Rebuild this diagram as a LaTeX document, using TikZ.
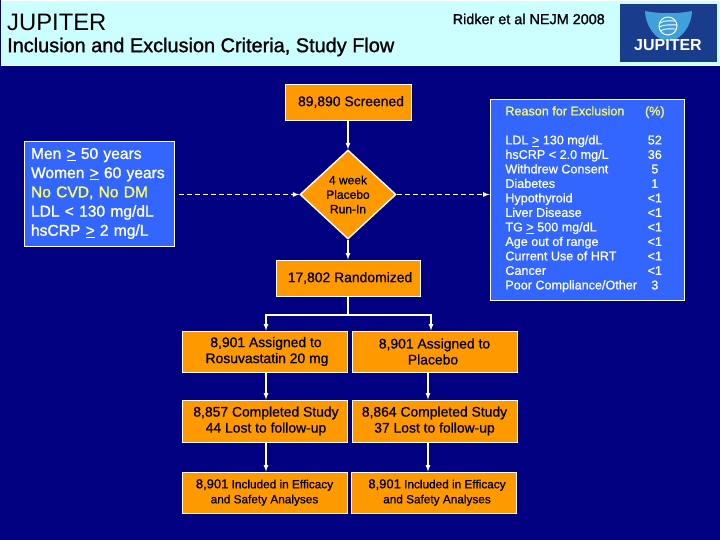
\documentclass[tikz,border=0pt]{standalone}
\usepackage{fontspec}
\usetikzlibrary{shapes.geometric}
\setmainfont{Liberation Sans}
\newfontfamily\heavyfont[FakeBold=1.2]{Liberation Sans}
\newfontfamily\medfont[FakeBold=0.7]{Liberation Sans}
\definecolor{navybg}{HTML}{000080}
\definecolor{headbg}{HTML}{CCFFFF}
\definecolor{orangebox}{HTML}{FF9900}
\definecolor{bluebox}{HTML}{3366FF}
\definecolor{yellowtext}{HTML}{FFFF66}
\definecolor{logoblue}{HTML}{1A3C8C}
\definecolor{logosky}{HTML}{3FA0DC}
\newcommand{\gequnder}{\underline{>}}
\tikzset{
  flowbox/.style={draw=white, fill=orangebox, line width=0.9pt, text=black, align=center,
    inner sep=0pt, font=\medfont\fontsize{13.9}{16}\selectfont},
  inclbox/.style={flowbox, minimum width=165pt, minimum height=41pt, font=\medfont\fontsize{11.8}{15}\selectfont},
  bluepanel/.style={draw=white, fill=bluebox, line width=0.9pt, inner sep=0pt},
  flow/.style={draw=white, line width=1.2pt, ->, >=latex},
  excl/.style={draw=white, line width=1.2pt, ->, >=latex, dash pattern=on 5pt off 3pt},
}
\begin{document}
\begin{tikzpicture}[x=1pt, y=-1pt]
  \useasboundingbox (0,0) rectangle (720,540);
  \fill[navybg] (0,0) rectangle (720,540);
  % header
  \node[draw=white, fill=headbg, line width=0.6pt, minimum width=718pt, minimum height=65pt, inner sep=0pt] (header) at (360,33) {};
  \node[anchor=west, font=\fontsize{23.8}{26}\selectfont, inner sep=0pt] (title) at (7,22) {JUPITER};
  \node[anchor=west, font=\heavyfont\fontsize{19.9}{22}\selectfont, inner sep=0pt] (subtitle) at (7,47) {Inclusion and Exclusion Criteria, Study Flow};
  \node[anchor=east, font=\heavyfont\fontsize{14.4}{16}\selectfont, inner sep=0pt] (ref) at (605,19) {Ridker et al NEJM 2008};
  % logo
  \node[fill=logoblue, minimum width=97pt, minimum height=58pt, inner sep=0pt] (logo) at (668.5,33) {};
  \fill[logosky] (645,11) .. controls (660,14) and (677,14) .. (692,11) .. controls (692,24) and (682,41) .. (668,41) .. controls (655,41) and (645,24) .. (645,11);
  \draw[white, line width=1pt] (668,26) circle (9pt);
  \draw[white, line width=0.9pt] (660,23) .. controls (665,20) and (670,21) .. (675,21);
  \draw[white, line width=0.9pt] (659,27) .. controls (665,24) and (671,25) .. (677,25);
  \draw[white, line width=0.9pt] (660,31) .. controls (665,28) and (671,29) .. (676,29);
  \node[text=white, font=\bfseries\fontsize{16}{18}\selectfont, inner sep=0pt] (logotext) at (668,45) {JUPITER};
  % flow
  \node[flowbox, minimum width=126pt, minimum height=36pt] (screened) at (348,102) {\hspace*{6pt}89,890 Screened};
  \node[flowbox, diamond, minimum width=96pt, minimum height=89pt, line width=1.4pt, aspect=1.08,
    font=\medfont\fontsize{12}{14.5}\selectfont] (runin) at (348,194.5) {4 week\\Placebo\\Run-In};
  \node[flowbox, minimum width=144pt, minimum height=36pt] (randomized) at (348,278) {\hspace*{4pt}17,802 Randomized};
  \coordinate (split) at (348,315);
  \coordinate (splitl) at (266,315);
  \coordinate (splitr) at (431,315);
  \coordinate (exclstart) at (179,194.5);
  \node[flowbox, minimum width=165pt, minimum height=41pt] (assignl) at (264.5,351.5) {\hspace*{3pt}8,901 Assigned to\\\hspace*{5pt}Rosuvastatin 20 mg};
  \node[flowbox, minimum width=165pt, minimum height=41pt] (assignr) at (434.5,351.5) {8,901 Assigned to\\Placebo\hspace*{3pt}};
  \node[flowbox, minimum width=165pt, minimum height=42pt] (donel) at (264.5,421) {\hspace*{3pt}8,857 Completed Study\\\hspace*{3pt}44 Lost to follow-up};
  \node[flowbox, minimum width=165pt, minimum height=42pt] (doner) at (434.5,421) {8,864 Completed Study\\37 Lost to follow-up};
  \node[inclbox] (inclul) at (264.5,492.5) {{\fontsize{13}{15}\selectfont 8,901} Included in Efficacy\\and Safety Analyses};
  \node[inclbox] (inclur) at (433.5,492.5) {\hspace*{7pt}{\fontsize{13}{15}\selectfont 8,901} Included in Efficacy\\\hspace*{7pt}and Safety Analyses};
  % criteria
  \node[bluepanel, minimum width=150pt, minimum height=105pt, text=white, align=left, text width=136pt,
    font=\heavyfont\fontsize{15.6}{19.2}\selectfont] (criteria) at (99,193.5)
    {Men \gequnder{} 50 years\\Women \gequnder{} 60 years\\\textcolor{yellowtext}{No CVD, No DM}\\LDL < 130 mg/dL\\hsCRP \gequnder{} 2 mg/L};
  % exclusions
  \node[bluepanel, minimum width=194pt, minimum height=201pt, text=white] (reason) at (587,199.5) {%
    \medfont\fontsize{12.6}{14.5}\selectfont
    \begin{tabular}{@{}l@{\hspace{8pt}}c@{\hspace{4pt}}}
      \textcolor{yellowtext}{Reason for Exclusion} & \textcolor{yellowtext}{(\%)}\\[14.5pt]
      LDL \gequnder{} 130 mg/dL & 52\\
      hsCRP < 2.0 mg/L & 36\\
      Withdrew Consent & 5\\
      Diabetes & 1\\
      Hypothyroid & <1\\
      Liver Disease & <1\\
      TG \gequnder{} 500 mg/dL & <1\\
      Age out of range & <1\\
      Current Use of HRT & <1\\
      Cancer & <1\\
      Poor Compliance/Other & 3
    \end{tabular}};
  % connectors
  \draw[flow] (screened) -- (runin);
  \draw[flow] (runin) -- (randomized);
  \draw[draw=white, line width=1.2pt] (randomized) -- (split);
  \draw[flow] (split) -- (splitl) -- (splitl |- assignl.north);
  \draw[flow] (split) -- (splitr) -- (splitr |- assignr.north);
  \draw[flow] (assignl.south -| splitl) -- (splitl |- donel.north);
  \draw[flow] ([xshift=-6.5pt]assignr.south) -- ([xshift=-6.5pt]doner.north);
  \draw[flow] (donel.south -| splitl) -- (splitl |- inclul.north);
  \draw[flow] ([xshift=-6.5pt]doner.south) -- ([xshift=-5.5pt]inclur.north);
  \draw[excl] (exclstart) -- (runin.west);
  \draw[excl] (runin.east) -- (runin.east -| reason.west);
\end{tikzpicture}
\end{document}
